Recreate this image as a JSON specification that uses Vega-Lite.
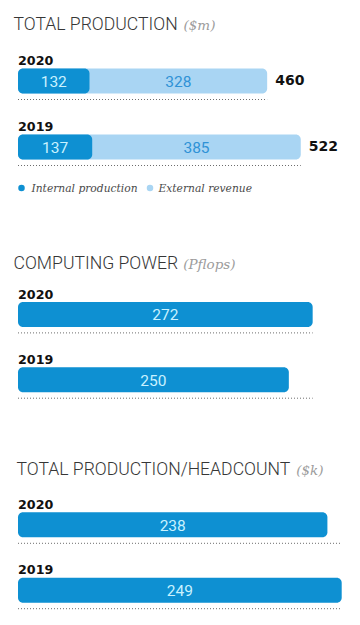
{
  "$schema": "https://vega.github.io/schema/vega-lite/v6.json",
  "background": "white",
  "padding": {"left": 13, "top": 15, "right": 0, "bottom": 0},
  "bounds": "flush",
  "spacing": 101.75,
  "config": {"view": {"stroke": null}},
  "datasets": {
    "production": [
      {"year": "2020", "segment": "Internal production", "amount": 132},
      {"year": "2020", "segment": "External revenue", "amount": 328},
      {"year": "2019", "segment": "Internal production", "amount": 137},
      {"year": "2019", "segment": "External revenue", "amount": 385}
    ],
    "computing": [
      {"year": "2020", "amount": 272},
      {"year": "2019", "amount": 250}
    ],
    "headcount": [
      {"year": "2020", "amount": 238},
      {"year": "2019", "amount": 249}
    ]
  },
  "vconcat": [
    {
      "width": 325,
      "height": {"step": 66},
      "data": {"name": "production"},
      "transform": [
        {"stack": "amount", "groupby": ["year"], "sort": [{"field": "segment", "order": "descending"}], "as": ["x0", "x1"]},
        {"joinaggregate": [{"op": "min", "field": "x0", "as": "base"}], "groupby": ["year"]}
      ],
      "encoding": {
        "y": {"field": "year", "type": "nominal", "sort": ["2020", "2019"], "axis": null, "scale": {"paddingInner": 0, "paddingOuter": 0}}
      },
      "layer": [
        {
          "transform": [{"filter": "datum.segment === 'External revenue'"}],
          "mark": {"type": "rule", "color": "#6d6d6d", "strokeDash": [1, 2], "strokeWidth": 1, "yOffset": 18.5},
          "encoding": {
            "x": {"field": "base", "type": "quantitative", "scale": {"domain": [0, 600], "nice": false, "zero": true}, "axis": null},
            "x2": {"field": "x1"}
          }
        },
        {
          "transform": [{"filter": "datum.segment === 'External revenue'"}],
          "mark": {"type": "bar", "color": "#a9d5f3", "size": 25, "cornerRadius": 5},
          "encoding": {"x": {"field": "x1", "type": "quantitative", "stack": null}}
        },
        {
          "transform": [{"filter": "datum.segment === 'Internal production'"}],
          "mark": {"type": "bar", "color": "#0e90d2", "size": 25, "cornerRadius": 5},
          "encoding": {"x": {"field": "x1", "type": "quantitative", "stack": null}}
        },
        {
          "transform": [
            {"fold": ["x0", "x1"], "as": ["edge", "pos"]},
            {"aggregate": [{"op": "mean", "field": "pos", "as": "mid"}], "groupby": ["year", "segment", "amount"]}
          ],
          "mark": {"type": "text", "font": "Roboto", "fontWeight": 400, "fontSize": 15.5, "baseline": "middle", "dy": 1},
          "encoding": {
            "x": {"field": "mid", "type": "quantitative"},
            "text": {"field": "amount", "type": "quantitative"},
            "color": {"field": "segment", "type": "nominal", "scale": {"domain": ["Internal production", "External revenue"], "range": ["#c9f2ff", "#2f92d6"]}, "legend": null}
          }
        },
        {
          "transform": [{"filter": "datum.segment === 'External revenue'"}],
          "mark": {"type": "text", "font": "DejaVu Sans", "fontWeight": "bold", "fontSize": 14, "align": "left", "baseline": "middle", "dx": 8, "color": "#111111"},
          "encoding": {
            "x": {"field": "x1", "type": "quantitative"},
            "text": {"field": "x1", "type": "quantitative"}
          }
        },
        {
          "transform": [{"filter": "datum.segment === 'External revenue'"}],
          "mark": {"type": "text", "font": "DejaVu Sans", "fontWeight": "bold", "fontSize": 12.7, "align": "left", "baseline": "alphabetic", "dy": -15.8, "color": "#111111"},
          "encoding": {
            "x": {"field": "base", "type": "quantitative"},
            "text": {"field": "year", "type": "nominal"}
          }
        },
        {
          "transform": [{"filter": "datum.year === '2020' && datum.segment === 'External revenue'"}],
          "mark": {"type": "text", "text": "TOTAL PRODUCTION", "font": "Roboto", "fontWeight": 300, "fontSize": 17.6, "align": "left", "baseline": "alphabetic", "dx": -4.5, "dy": -51.2, "color": "#363636"},
          "encoding": {"x": {"field": "base", "type": "quantitative"}}
        },
        {
          "transform": [{"filter": "datum.year === '2020' && datum.segment === 'External revenue'"}],
          "mark": {"type": "text", "text": "($m)", "font": "DejaVu Serif", "fontStyle": "italic", "fontSize": 13.5, "align": "left", "baseline": "alphabetic", "dx": 165.5, "dy": -51.2, "color": "#9c9c9c"},
          "encoding": {"x": {"field": "base", "type": "quantitative"}}
        },
        {
          "transform": [{"filter": "datum.year === '2019' && datum.segment === 'Internal production'"}],
          "mark": {"type": "circle", "size": 42, "opacity": 1, "color": "#0e90d2", "xOffset": 3.5, "yOffset": 41},
          "encoding": {"x": {"field": "base", "type": "quantitative"}}
        },
        {
          "transform": [{"filter": "datum.year === '2019' && datum.segment === 'Internal production'"}],
          "mark": {"type": "text", "font": "DejaVu Serif", "fontStyle": "italic", "fontSize": 10.7, "align": "left", "baseline": "middle", "dx": 13.5, "dy": 41.5, "color": "#4a4a4a"},
          "encoding": {"x": {"field": "base", "type": "quantitative"}, "text": {"field": "segment", "type": "nominal"}}
        },
        {
          "transform": [{"filter": "datum.year === '2019' && datum.segment === 'External revenue'"}],
          "mark": {"type": "circle", "size": 42, "opacity": 1, "color": "#a9d5f3", "xOffset": 132, "yOffset": 41},
          "encoding": {"x": {"field": "base", "type": "quantitative"}}
        },
        {
          "transform": [{"filter": "datum.year === '2019' && datum.segment === 'External revenue'"}],
          "mark": {"type": "text", "font": "DejaVu Serif", "fontStyle": "italic", "fontSize": 10.7, "align": "left", "baseline": "middle", "dx": 140.5, "dy": 41.5, "color": "#4a4a4a"},
          "encoding": {"x": {"field": "base", "type": "quantitative"}, "text": {"field": "segment", "type": "nominal"}}
        }
      ]
    },
    {
      "bounds": "flush",
      "spacing": 79.35,
      "vconcat": [
        {
          "width": 325,
          "height": {"step": 65.3},
          "data": {"name": "computing"},
          "transform": [
            {"stack": "amount", "groupby": ["year"], "as": ["x0", "x1"]},
            {"joinaggregate": [{"op": "max", "field": "amount", "as": "maxAmount"}]}
          ],
          "encoding": {
            "y": {"field": "year", "type": "nominal", "sort": ["2020", "2019"], "axis": null, "scale": {"paddingInner": 0, "paddingOuter": 0}}
          },
          "layer": [
            {
              "mark": {"type": "rule", "color": "#6d6d6d", "strokeDash": [1, 2], "strokeWidth": 1, "yOffset": 18.5},
              "encoding": {
                "x": {"field": "x0", "type": "quantitative", "scale": {"domain": [0, 300], "nice": false, "zero": true}, "axis": null},
                "x2": {"field": "maxAmount"}
              }
            },
            {
              "mark": {"type": "bar", "color": "#0e90d2", "size": 25, "cornerRadius": 5},
              "encoding": {"x": {"field": "x1", "type": "quantitative", "stack": null}}
            },
            {
              "transform": [
                {"fold": ["x0", "x1"], "as": ["edge", "pos"]},
                {"aggregate": [{"op": "mean", "field": "pos", "as": "mid"}], "groupby": ["year", "amount"]}
              ],
              "mark": {"type": "text", "font": "Roboto", "fontWeight": 400, "fontSize": 15.5, "baseline": "middle", "dy": 1, "color": "#c9f2ff"},
              "encoding": {
                "x": {"field": "mid", "type": "quantitative"},
                "text": {"field": "amount", "type": "quantitative"}
              }
            },
            {
              "mark": {"type": "text", "font": "DejaVu Sans", "fontWeight": "bold", "fontSize": 12.7, "align": "left", "baseline": "alphabetic", "dy": -15.8, "color": "#111111"},
              "encoding": {
                "x": {"field": "x0", "type": "quantitative"},
                "text": {"field": "year", "type": "nominal"}
              }
            },
            {
              "transform": [{"filter": "datum.year === '2020'"}],
              "mark": {"type": "text", "text": "COMPUTING POWER", "font": "Roboto", "fontWeight": 300, "fontSize": 17.6, "align": "left", "baseline": "alphabetic", "dx": -4.5, "dy": -45.7, "color": "#363636"},
              "encoding": {"x": {"field": "x0", "type": "quantitative"}}
            },
            {
              "transform": [{"filter": "datum.year === '2020'"}],
              "mark": {"type": "text", "text": "(Pflops)", "font": "DejaVu Serif", "fontStyle": "italic", "fontSize": 13.5, "align": "left", "baseline": "alphabetic", "dx": 165.2, "dy": -45.7, "color": "#9c9c9c"},
              "encoding": {"x": {"field": "x0", "type": "quantitative"}}
            }
          ]
        },
        {
          "width": 325,
          "height": {"step": 65.4},
          "data": {"name": "headcount"},
          "transform": [
            {"stack": "amount", "groupby": ["year"], "as": ["x0", "x1"]},
            {"joinaggregate": [{"op": "max", "field": "amount", "as": "maxAmount"}]}
          ],
          "encoding": {
            "y": {"field": "year", "type": "nominal", "sort": ["2020", "2019"], "axis": null, "scale": {"paddingInner": 0, "paddingOuter": 0}}
          },
          "layer": [
            {
              "mark": {"type": "rule", "color": "#6d6d6d", "strokeDash": [1, 2], "strokeWidth": 1, "yOffset": 18.5},
              "encoding": {
                "x": {"field": "x0", "type": "quantitative", "scale": {"domain": [0, 250], "nice": false, "zero": true}, "axis": null},
                "x2": {"field": "maxAmount"}
              }
            },
            {
              "mark": {"type": "bar", "color": "#0e90d2", "size": 25, "cornerRadius": 5},
              "encoding": {"x": {"field": "x1", "type": "quantitative", "stack": null}}
            },
            {
              "transform": [
                {"fold": ["x0", "x1"], "as": ["edge", "pos"]},
                {"aggregate": [{"op": "mean", "field": "pos", "as": "mid"}], "groupby": ["year", "amount"]}
              ],
              "mark": {"type": "text", "font": "Roboto", "fontWeight": 400, "fontSize": 15.5, "baseline": "middle", "dy": 1, "color": "#c9f2ff"},
              "encoding": {
                "x": {"field": "mid", "type": "quantitative"},
                "text": {"field": "amount", "type": "quantitative"}
              }
            },
            {
              "mark": {"type": "text", "font": "DejaVu Sans", "fontWeight": "bold", "fontSize": 12.7, "align": "left", "baseline": "alphabetic", "dy": -15.8, "color": "#111111"},
              "encoding": {
                "x": {"field": "x0", "type": "quantitative"},
                "text": {"field": "year", "type": "nominal"}
              }
            },
            {
              "transform": [{"filter": "datum.year === '2020'"}],
              "mark": {"type": "text", "text": "TOTAL PRODUCTION/HEADCOUNT", "font": "Roboto", "fontWeight": 300, "fontSize": 17.6, "align": "left", "baseline": "alphabetic", "dx": -1.5, "dy": -49.6, "color": "#363636"},
              "encoding": {"x": {"field": "x0", "type": "quantitative"}}
            },
            {
              "transform": [{"filter": "datum.year === '2020'"}],
              "mark": {"type": "text", "text": "($k)", "font": "DejaVu Serif", "fontStyle": "italic", "fontSize": 13.5, "align": "left", "baseline": "alphabetic", "dx": 278.2, "dy": -49.6, "color": "#9c9c9c"},
              "encoding": {"x": {"field": "x0", "type": "quantitative"}}
            }
          ]
        }
      ]
    }
  ]
}
